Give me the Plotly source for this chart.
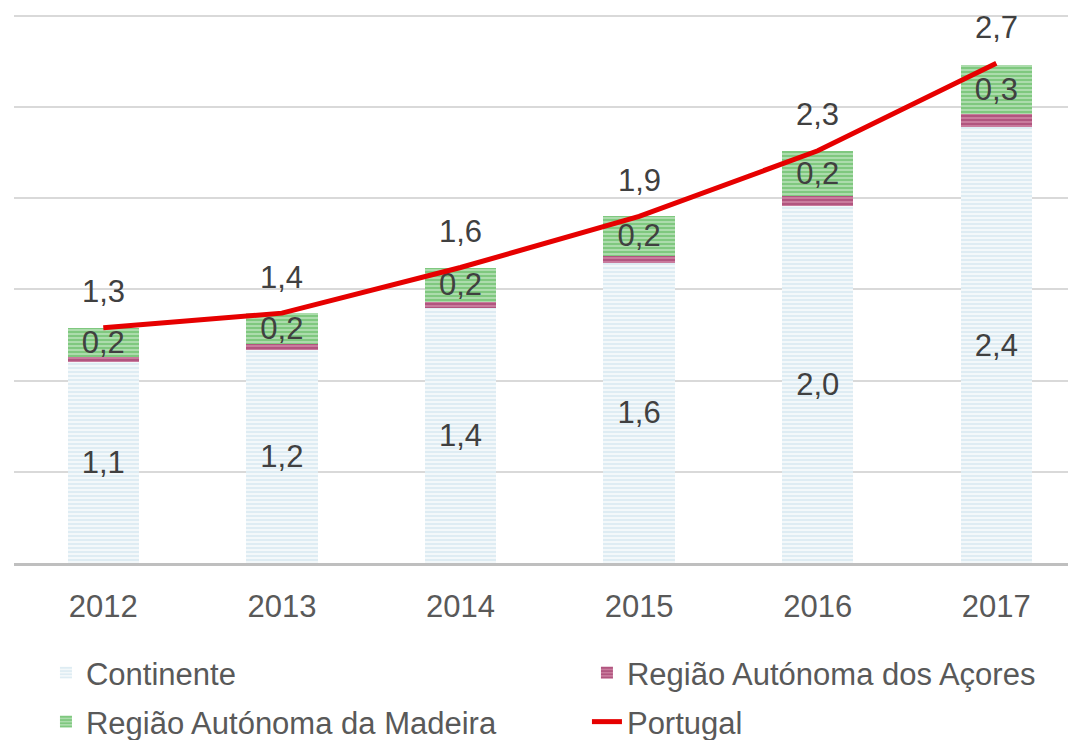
import plotly.graph_objects as go

years = ["2012", "2013", "2014", "2015", "2016", "2017"]
continente = [1.10, 1.17, 1.40, 1.645, 1.96, 2.39]
acores = [0.027, 0.03, 0.03, 0.038, 0.05, 0.07]
madeira = [0.16, 0.17, 0.19, 0.22, 0.25, 0.27]
portugal = [1.29, 1.37, 1.62, 1.90, 2.26, 2.74]
continente_lbl = ["1,1", "1,2", "1,4", "1,6", "2,0", "2,4"]
madeira_lbl = ["0,2", "0,2", "0,2", "0,2", "0,2", "0,3"]
portugal_lbl = ["1,3", "1,4", "1,6", "1,9", "2,3", "2,7"]

FONT = "Liberation Sans, Arial, sans-serif"
LBL = dict(family=FONT, size=31, color="#404040")
LEG = dict(family=FONT, size=31, color="#595959")

fig = go.Figure()
fig.add_trace(go.Bar(
    x=years, y=continente, name="Continente", width=0.40, legend="legend", showlegend=True,
    marker=dict(color="#e0edf3", line=dict(width=0),
                pattern=dict(shape="-", fgcolor="#c9e0eb", bgcolor="#f3f8fa", size=4, solidity=0.5)),
    text=continente_lbl, textposition="inside", insidetextanchor="middle",
    textangle=0, constraintext="none", textfont=LBL,
))
fig.add_trace(go.Bar(
    x=years, y=acores, name="Região Autónoma dos Açores", width=0.40, legend="legend2", showlegend=True,
    marker=dict(color="#a43a6c", line=dict(width=0),
                pattern=dict(shape="-", fgcolor="#9a2f62", bgcolor="#c97b9d", size=4, solidity=0.5)),
))
fig.add_trace(go.Bar(
    x=years, y=madeira, name="Região Autónoma da Madeira", width=0.40, legend="legend3", showlegend=True,
    marker=dict(color="#62bc62", line=dict(width=0),
                pattern=dict(shape="-", fgcolor="#52b352", bgcolor="#acdcac", size=4, solidity=0.5)),
    text=madeira_lbl, textposition="inside", insidetextanchor="middle",
    textangle=0, constraintext="none", textfont=LBL,
))
fig.add_trace(go.Scatter(
    x=years, y=portugal, name="Portugal", mode="lines", legend="legend4", showlegend=True,
    line=dict(color="#e60000", width=5),
))

for i, (v, t) in enumerate(zip(portugal, portugal_lbl)):
    fig.add_annotation(x=i, y=v, xref="x", yref="y", text=t, showarrow=False,
                       yshift=36, yanchor="middle", font=LBL)

leg_common = dict(orientation="h", xanchor="left", yanchor="top", font=LEG,
                  bgcolor="rgba(0,0,0,0)")

X1, X2 = 0.0301, 0.5395
Y1, Y2 = -0.1512, -0.2404

fig.update_layout(
    width=1068, height=732,
    barmode="stack",
    showlegend=True,
    paper_bgcolor="white", plot_bgcolor="white",
    margin=dict(l=6, r=0, t=6, b=177, autoexpand=False),
    font=dict(family=FONT, size=31, color="#595959"),
    legend=dict(x=X1, y=Y1, **leg_common),
    legend2=dict(x=X2, y=Y1, **leg_common),
    legend3=dict(x=X1, y=Y2, **leg_common),
    legend4=dict(x=X2, y=Y2, **leg_common),
    xaxis=dict(type="category", range=[-0.5, 5.446], showline=True,
               linecolor="#bfbfbf", linewidth=3, ticks="outside", ticklen=14,
               tickcolor="rgba(0,0,0,0)", tickfont=LEG,
               showgrid=False, fixedrange=True),
    yaxis=dict(range=[0, 3.01], dtick=0.5, showticklabels=False, showgrid=True,
               gridcolor="#d9d9d9", gridwidth=1.5, zeroline=False, fixedrange=True),
)

fig.write_html("out.html")
